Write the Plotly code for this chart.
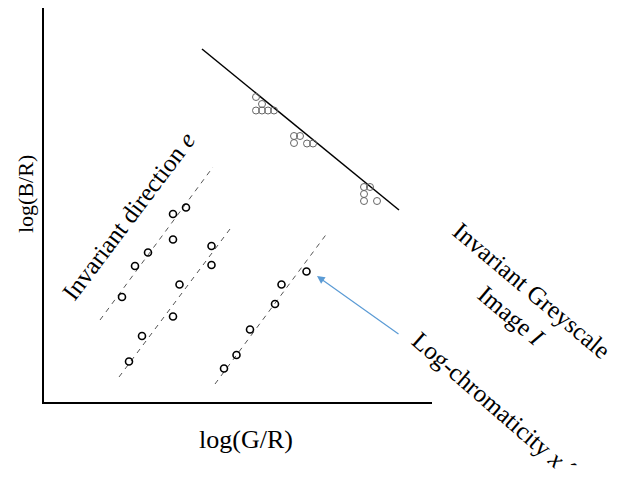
import plotly.graph_objects as go

# Schematic diagram coordinates (diagram units, y grows downward)
axis_x = [43, 43, 432]
axis_y = [4, 403, 403]

fit_line_x = [202, 399]
fit_line_y = [49, 210]

grey_x = [256, 262, 256, 262, 268, 274, 294, 300, 294, 307, 313, 364, 370, 364, 364, 377]
grey_y = [97, 104, 110.5, 110.5, 110.5, 110.5, 136, 136, 143, 143.5, 143.5, 187, 187, 194, 201, 201]

dash1_x = [100, 213]
dash1_y = [320, 167]
dash2_x = [119, 233]
dash2_y = [377, 225]
dash3_x = [215, 328]
dash3_y = [384, 232]

pts1_x = [122, 135, 148, 173, 186, 173]
pts1_y = [297, 266, 252.5, 214, 207.5, 239.5]
pts2_x = [129, 142, 173, 179.5, 211.5, 211.5]
pts2_y = [361.5, 336, 316.5, 284.5, 265, 246]
pts3_x = [224, 236.5, 250, 275, 281.5, 306.5]
pts3_y = [368.5, 355, 329.5, 304, 284.5, 271.5]

arrow_tail = (400, 335)
arrow_head = (317, 276)

# page body has an 8px margin; offset the view so diagram units match page pixels
PAGE_OFFSET = 8

fig = go.Figure()

fig.add_trace(go.Scatter(x=axis_x, y=axis_y, mode="lines",
                         line=dict(color="black", width=2), hoverinfo="skip"))
fig.add_trace(go.Scatter(x=fit_line_x, y=fit_line_y, mode="lines",
                         line=dict(color="black", width=1.5), hoverinfo="skip"))
for dx, dy in [(dash1_x, dash1_y), (dash2_x, dash2_y), (dash3_x, dash3_y)]:
    fig.add_trace(go.Scatter(x=dx, y=dy, mode="lines",
                             line=dict(color="#555555", width=1, dash="5px,5px"),
                             hoverinfo="skip"))
fig.add_trace(go.Scatter(x=grey_x, y=grey_y, mode="markers",
                         marker=dict(symbol="circle-open", size=7,
                                     color="#666666", line=dict(width=1)),
                         hoverinfo="skip"))
for px, py in [(pts1_x, pts1_y), (pts2_x, pts2_y), (pts3_x, pts3_y)]:
    fig.add_trace(go.Scatter(x=px, y=py, mode="markers",
                             marker=dict(symbol="circle-open", size=7,
                                         color="black", line=dict(width=1.6)),
                             hoverinfo="skip"))

font = dict(family="Liberation Serif", color="black")
annotations = [
    dict(x=25, y=194, text="log(B/R)", textangle=-90, font=dict(size=22, **font)),
    dict(x=246, y=439, text="log(G/R)", font=dict(size=26, **font)),
    dict(x=128, y=216, text="Invariant direction <i>e</i>", textangle=-53,
         font=dict(size=25, **font)),
    dict(x=521, y=303, text="Invariant Greyscale<br>Image <i>I</i>", textangle=40,
         font=dict(size=25, **font)),
    dict(x=494, y=404, text="Log-chromaticity <i>x</i> ´", textangle=41,
         font=dict(size=25, **font)),
]
for a in annotations:
    a.update(xref="x", yref="y", showarrow=False, xanchor="center", yanchor="middle")
    fig.add_annotation(**a)

fig.add_annotation(x=arrow_head[0], y=arrow_head[1], ax=arrow_tail[0], ay=arrow_tail[1],
                   xref="x", yref="y", axref="x", ayref="y", text="",
                   showarrow=True, arrowhead=2, arrowsize=1.3, arrowwidth=1.2,
                   arrowcolor="#5B9BD5")

fig.update_layout(
    width=619, height=487,
    margin=dict(l=0, r=0, t=0, b=0),
    paper_bgcolor="white", plot_bgcolor="white",
    showlegend=False,
    xaxis=dict(range=[PAGE_OFFSET, 619 + PAGE_OFFSET], visible=False, fixedrange=True),
    yaxis=dict(range=[487 + PAGE_OFFSET, PAGE_OFFSET], visible=False, fixedrange=True),
)

fig.write_html("out.html")
